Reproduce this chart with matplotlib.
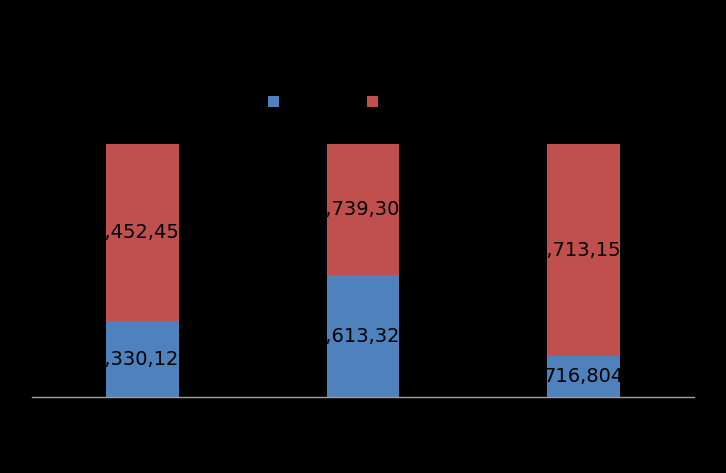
import numpy as np
import matplotlib
matplotlib.use("Agg")
import matplotlib.pyplot as plt

# Data (labels are drawn in black, so only the parts over the bars show)
categories = ["A", "B", "C"]
series_names = ["Series1", "Series2"]
blue_values = [2330120, 1613320, 716804]
red_values = [5452450, 1739300, 3713150]

BLUE = "#4F81BD"
RED = "#C0504D"

blue = np.array(blue_values, dtype=float)
red = np.array(red_values, dtype=float)
total = blue + red
blue_pct = blue / total
red_pct = red / total

fig = plt.figure(figsize=(7.26, 4.73), dpi=100, facecolor="black")
ax = fig.add_axes([32 / 726, 76 / 473, 662 / 726, 252.5 / 473])
ax.set_facecolor("black")

x = np.arange(len(categories))
width = 0.33
b1 = ax.bar(x, blue_pct, width, color=BLUE, label=series_names[0])
b2 = ax.bar(x, red_pct, width, bottom=blue_pct, color=RED, label=series_names[1])

# data labels, centred in each segment
for i in range(len(categories)):
    ax.text(x[i], blue_pct[i] / 2, f"{blue_values[i]:,}", ha="center", va="center",
            fontsize=14, color="black")
    ax.text(x[i], blue_pct[i] + red_pct[i] / 2, f"{red_values[i]:,}", ha="center",
            va="center", fontsize=14, color="black")

ax.set_xlim(-0.5, len(categories) - 0.5)
ax.set_ylim(0, 1)
ax.set_xticks(x)
ax.set_xticklabels(categories, color="black")
ax.set_yticks([])
for side in ["left", "right", "top"]:
    ax.spines[side].set_visible(False)
ax.spines["bottom"].set_color("#A0A0A0")
ax.spines["bottom"].set_linewidth(1)
ax.tick_params(axis="x", length=0)

fig.legend(handles=[b1, b2], labels=series_names, loc="center",
           bbox_to_anchor=(351.5 / 726, 1 - 102.5 / 473), ncol=2, frameon=False,
           handlelength=0.8, handleheight=0.8, handletextpad=0.4,
           columnspacing=2.2, fontsize=10, labelcolor="black")

fig.savefig("out.png", dpi=100, facecolor="black")
